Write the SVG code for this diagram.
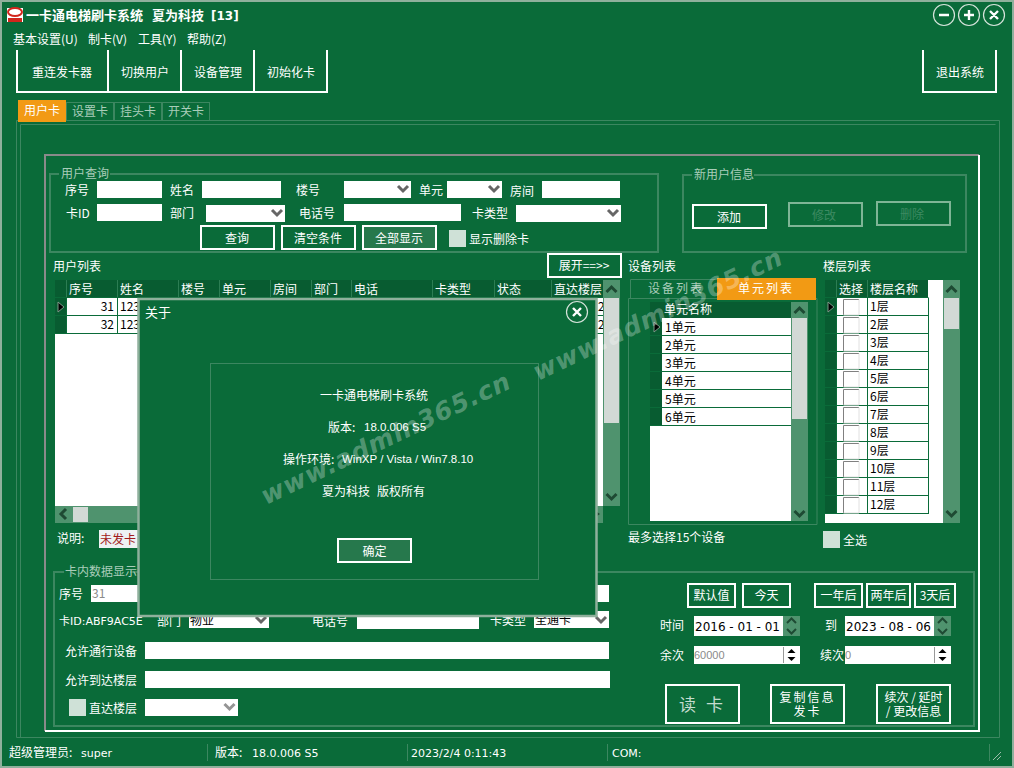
<svg xmlns="http://www.w3.org/2000/svg" xmlns:xlink="http://www.w3.org/1999/xlink" width="1014" height="768" viewBox="0 0 1014 768">
<style>
text{font-family:"Noto Sans CJK SC","Liberation Sans",sans-serif;font-size:12px;fill:#fff}
.lat{font-family:"DejaVu Sans","Noto Sans CJK SC",sans-serif;font-size:11px}
.k{fill:#000}.m{text-anchor:middle}.g{fill:#a9cdb9}.gy{fill:#8a8a8a}
.gb{fill:none;stroke:#3c8760;stroke-width:2}
.ln{fill:none;stroke:#3c8760;stroke-width:1}
.btn{fill:#0a6b39;stroke:#fff;stroke-width:2}
.on{fill:#26784c}
.dis{fill:#0a6b39;stroke:#7fb596;stroke-width:2}
.w{fill:#fff}.cb{fill:#cfe1d7}.hd{fill:#085c31}.sb{fill:#4f936e}.th{fill:#d2d9d5}.sep{fill:#2c7d53}
.chev{fill:none;stroke:#1e4a33;stroke-width:3}
.cmb{fill:none;stroke:#666;stroke-width:3}
.wm{font-family:"DejaVu Sans",sans-serif;font-size:25px;font-weight:bold;font-style:italic;fill:#fff;fill-opacity:.3;letter-spacing:1px}
</style>
<defs>
<path id="up" class="chev" d="M-5 3L0-2L5 3"/>
<path id="dn" class="chev" d="M-5-3L0 2L5-3"/>
<path id="cv" class="cmb" d="M-5-3L0 2L5-3"/>
<path id="ind" d="M-3-5L3 0L-3 5Z" fill="#000" stroke="#7a9a88" stroke-width="1"/>
<g id="chk"><rect x="0" y="0" width="16" height="16" fill="#fff"/><path d="M.5 16V.5H16" fill="none" stroke="#808080"/><path d="M16 .5V16H.5" fill="none" stroke="#e0e0e0"/></g>
<path id="spn" d="M-4-2L0-6L4-2ZM-4 2L0 6L4 2Z" fill="#000"/>
</defs>

<rect id="window" x="1" y="1" width="1012" height="766" fill="#0a6b39" stroke="#8fb09c" stroke-width="2"/>

<g id="titlebar">
<rect x="7" y="8" width="16" height="14" fill="#fff"/>
<ellipse cx="15" cy="12" rx="7" ry="4" fill="none" stroke="#d2261c" stroke-width="2"/>
<rect x="8" y="18" width="14" height="4" fill="#d2261c"/>
<text x="26" y="20" font-size="13" style="font-size:13px;font-weight:bold">一卡通电梯刷卡系统</text>
<text x="152" y="20" style="font-size:13px;font-weight:bold">夏为科技</text>
<text x="211" y="20" style="font-size:12px;font-weight:bold;font-family:'DejaVu Sans',sans-serif">[13]</text>
<g fill="none" stroke="#d5e3da" stroke-width="1.2"><circle cx="944" cy="15" r="10.5"/><circle cx="969" cy="15" r="10.5"/><circle cx="994" cy="15" r="10.5"/></g>
<path d="M939 15H949M964 15H974M969 10V20M990 11L998 19M998 11L990 19" fill="none" stroke="#fff" stroke-width="2.4"/>
</g>

<g id="menu">
<text x="13" y="44">基本设置(U)</text><text x="88" y="44">制卡(V)</text><text x="138" y="44">工具(Y)</text><text x="187" y="44">帮助(Z)</text>
</g>

<g id="toolbar">
<path d="M17 50V92H327V50M108 50V92M181 50V92M254 50V92" fill="none" stroke="#fff" stroke-width="2"/>
<path d="M923 50V92H996V50" fill="none" stroke="#fff" stroke-width="2"/>
<text x="32" y="77">重连发卡器</text><text x="121" y="77">切换用户</text><text x="194" y="77">设备管理</text><text x="267" y="77">初始化卡</text><text x="936" y="77">退出系统</text>
</g>

<g id="tabs">
<path d="M16.5 120.5H999.500V737.500H16.500Z" class="ln"/>
<path d="M20.500 124.500H995.500M20.500 124.500V737" class="ln"/>
<rect x="66.500" y="102.500" width="47" height="18" class="ln"/><rect x="114.500" y="102.500" width="47" height="18" class="ln"/><rect x="162.500" y="102.500" width="47" height="18" class="ln"/>
<rect x="18" y="100" width="48" height="22" fill="#f29a14"/>
<text x="24" y="115">用户卡</text><text x="72" y="116" class="g">设置卡</text><text x="120" y="116" class="g">挂头卡</text><text x="168" y="116" class="g">开关卡</text>
</g>

<g id="panel">
<path d="M45 731V155H979" fill="none" stroke="#8a8a8a" stroke-width="2"/>
<path d="M979 155V731H45" fill="none" stroke="#fff" stroke-width="2"/>
</g>

<g id="query">
<path d="M59 174H50V252H658V174H110" class="gb"/>
<text x="61" y="178" class="g">用户查询</text>
<text x="65" y="195">序号</text><rect x="97" y="181" width="65" height="17" class="w"/>
<text x="170" y="195">姓名</text><rect x="202" y="181" width="79" height="17" class="w"/>
<text x="296" y="195">楼号</text><rect x="344" y="181" width="67" height="17" class="w"/><use href="#cv" x="403" y="189"/>
<text x="419" y="195">单元</text><rect x="447" y="181" width="55" height="17" class="w"/><use href="#cv" x="494" y="189"/>
<text x="510" y="196">房间</text><rect x="542" y="181" width="78" height="17" class="w"/>
<text x="66" y="218">卡ID</text><rect x="97" y="204" width="65" height="17" class="w"/>
<text x="170" y="218">部门</text><rect x="206" y="205" width="79" height="17" class="w"/><use href="#cv" x="277" y="213"/>
<text x="299" y="218">电话号</text><rect x="344" y="204" width="117" height="17" class="w"/>
<text x="472" y="218">卡类型</text><rect x="516" y="205" width="105" height="17" class="w"/><use href="#cv" x="613" y="213"/>
<rect x="201" y="226" width="73" height="23" class="btn"/><text x="237" y="243" class="m">查询</text>
<rect x="282" y="226" width="73" height="23" class="btn"/><text x="318" y="243" class="m">清空条件</text>
<rect x="363" y="226" width="73" height="23" class="btn on"/><text x="399" y="243" class="m">全部显示</text>
<rect x="449" y="230" width="17" height="17" class="cb"/><text x="469" y="244">显示删除卡</text>
</g>

<g id="newuser">
<path d="M692 175H683V252H966V175H754" class="gb"/>
<text x="694" y="179" class="g">新用户信息</text>
<rect x="693" y="205" width="73" height="23" class="btn"/><text x="729" y="222" class="m">添加</text>
<rect x="789" y="203" width="73" height="23" class="dis"/><text x="824" y="220" class="m" style="fill:#3d8a62">修改</text>
<rect x="877" y="202" width="73" height="23" class="dis"/><text x="912" y="219" class="m" style="fill:#3d8a62">删除</text>
</g>

<g id="userlist">
<text x="53" y="271">用户列表</text>
<rect x="548" y="254" width="73" height="23" class="btn"/><text x="584" y="270" class="m">展开==&gt;&gt;</text>
<rect x="55" y="280" width="548" height="226" class="w"/>
<rect x="55" y="280" width="548" height="17" class="hd"/>
<path d="M66.500 280V297M117.500 280V297M178.500 280V297M219.500 280V297M270.500 280V297M311.500 280V297M351.500 280V297M432.500 280V297M494.500 280V297M551.500 280V297" stroke="#2c7d53"/>
<g><text x="69" y="294">序号</text><text x="120" y="294">姓名</text><text x="181" y="294">楼号</text><text x="222" y="294">单元</text><text x="273" y="294">房间</text><text x="314" y="294">部门</text><text x="354" y="294">电话</text><text x="435" y="294">卡类型</text><text x="497" y="294">状态</text><text x="554" y="294">直达楼层</text></g>
<rect x="55" y="298" width="11" height="17" class="hd"/><rect x="55" y="316" width="11" height="17" class="hd"/>
<path d="M55 297.500H603M55 315.500H603M55 333.500H603M66.500 298V333M117.500 298V333M178.500 298V333M219.500 298V333M270.500 298V333M311.500 298V333M351.500 298V333M432.500 298V333M494.500 298V333M551.500 298V333" stroke="#0a6b39"/>
<use href="#ind" x="61" y="307"/>
<text x="114" y="311" class="k" style="text-anchor:end">31</text><text x="114" y="329" class="k" style="text-anchor:end">32</text>
<text x="120" y="311" class="k">123</text><text x="120" y="329" class="k">123</text>
<text x="598" y="311" class="k">2</text><text x="598" y="329" class="k">2</text>
<rect x="603" y="280" width="17" height="226" class="sb"/><rect x="604" y="298" width="15" height="125" class="th"/>
<use href="#up" x="611.500" y="289"/><use href="#dn" x="611.500" y="497"/>
<rect x="55" y="506" width="548" height="17" class="sb"/><rect x="73" y="507" width="15" height="15" class="th"/>
<path d="M66 509L61 514L66 519" class="chev"/><path d="M597 512L600 514L597 516Z" fill="#1e4a33"/>
<text x="57" y="543">说明:</text>
<rect x="99" y="530" width="39" height="18" fill="#eef2f3"/><text x="100" y="544" style="fill:#a11a1a">未发卡</text>
</g>

<g id="devices">
<text x="628" y="271">设备列表</text>
<path d="M630.500 299V279.500H717" class="ln"/>
<path d="M628.500 298.500H817V524.500H628.500Z" class="ln"/>
<rect x="717" y="278" width="99" height="22" fill="#f29a14"/>
<text x="648" y="293" class="g" style="letter-spacing:2px">设备列表</text>
<text x="738" y="293" style="letter-spacing:2px">单元列表</text>
<rect x="650" y="302" width="141" height="219" class="w"/>
<rect x="650" y="302" width="141" height="16" class="hd"/>
<text x="664" y="314">单元名称</text>
<g class="hd"><rect x="650" y="318" width="12" height="17"/><rect x="650" y="336" width="12" height="17"/><rect x="650" y="354" width="12" height="17"/><rect x="650" y="372" width="12" height="17"/><rect x="650" y="390" width="12" height="17"/><rect x="650" y="408" width="12" height="17"/></g>
<path d="M650 335.500H791M650 353.500H791M650 371.500H791M650 389.500H791M650 407.500H791M650 425.500H791" stroke="#0a6b39"/>
<use href="#ind" x="657" y="327"/>
<g class="k"><text x="665" y="332" class="k">1单元</text><text x="665" y="350" class="k">2单元</text><text x="665" y="368" class="k">3单元</text><text x="665" y="386" class="k">4单元</text><text x="665" y="404" class="k">5单元</text><text x="665" y="422" class="k">6单元</text></g>
<rect x="791" y="302" width="17" height="219" class="sb"/><rect x="792" y="318" width="15" height="101" class="th"/>
<use href="#up" x="799.500" y="310"/><use href="#dn" x="799.500" y="514"/>
<text x="628" y="542">最多选择15个设备</text>
</g>

<g id="floors">
<text x="823" y="271">楼层列表</text>
<rect x="825" y="280" width="118" height="243" class="w"/>
<rect x="825" y="280" width="103" height="17" class="hd"/>
<path d="M836.500 280V297M867.500 280V297" stroke="#2c7d53"/>
<text x="839" y="294">选择</text><text x="870" y="294">楼层名称</text>
<g id="rows">
<g class="hd"><rect x="825" y="298" width="11" height="215"/></g>
<path d="M825 297.500H928.500M825 315.500H928.500M825 333.500H928.500M825 351.500H928.500M825 369.500H928.500M825 387.500H928.500M825 405.500H928.500M825 423.500H928.500M825 441.500H928.500M825 459.500H928.500M825 477.500H928.500M825 495.500H928.500M825 513.500H928.500M836.500 298V513M867.500 298V513M928.500 298V514" stroke="#0a6b39"/>
</g>
<use href="#ind" x="831" y="307"/>
<use href="#chk" x="843" y="299"/><use href="#chk" x="843" y="317"/><use href="#chk" x="843" y="335"/><use href="#chk" x="843" y="353"/><use href="#chk" x="843" y="371"/><use href="#chk" x="843" y="389"/><use href="#chk" x="843" y="407"/><use href="#chk" x="843" y="425"/><use href="#chk" x="843" y="443"/><use href="#chk" x="843" y="461"/><use href="#chk" x="843" y="479"/><use href="#chk" x="843" y="497"/>
<text x="870" y="311" class="k">1层</text><text x="870" y="329" class="k">2层</text><text x="870" y="347" class="k">3层</text><text x="870" y="365" class="k">4层</text><text x="870" y="383" class="k">5层</text><text x="870" y="401" class="k">6层</text><text x="870" y="419" class="k">7层</text><text x="870" y="437" class="k">8层</text><text x="870" y="455" class="k">9层</text><text x="870" y="473" class="k">10层</text><text x="870" y="491" class="k">11层</text><text x="870" y="509" class="k">12层</text>
<rect x="943" y="280" width="17" height="243" class="sb"/><rect x="944" y="298" width="15" height="31" class="th"/>
<use href="#up" x="951.500" y="289"/><use href="#dn" x="951.500" y="514"/>
<rect x="823" y="531" width="17" height="17" class="cb"/><text x="843" y="545">全选</text>
</g>

<g id="carddata">
<path d="M64 572H54V726H974V572H130" class="gb"/>
<text x="65" y="576" class="g">卡内数据显示</text>
<text x="59" y="599">序号</text><rect x="91" y="585" width="518" height="17" class="w"/><text x="92" y="598" class="gy">31</text>
<text x="59" y="625" class="lat" style="font-size:11px">卡ID:ABF9AC5E</text>
<text x="157" y="626">部门</text><rect x="189" y="611" width="80" height="17" class="w"/><text x="190" y="625" class="k">物业</text><use href="#cv" x="261" y="620"/>
<text x="312" y="626">电话号</text><rect x="357" y="611" width="122" height="18" class="w"/>
<text x="490" y="625">卡类型</text><rect x="534" y="611" width="75" height="17" class="w"/><text x="535" y="624" class="k">全通卡</text><use href="#cv" x="601" y="620"/>
<text x="65" y="656">允许通行设备</text><rect x="145" y="642" width="464" height="17" class="w"/>
<text x="65" y="685">允许到达楼层</text><rect x="145" y="671" width="465" height="17" class="w"/>
<rect x="69" y="699" width="17" height="17" class="cb"/><text x="89" y="713">直达楼层</text>
<rect x="145" y="699" width="93" height="17" class="w"/><use href="#cv" x="229.500" y="707" style="opacity:.7"/>
<rect x="688" y="584" width="47" height="23" class="btn"/><text x="711.500" y="600" class="m">默认值</text>
<rect x="743" y="584" width="47" height="23" class="btn"/><text x="766.500" y="600" class="m">今天</text>
<rect x="815" y="584" width="47" height="23" class="btn"/><text x="838.500" y="600" class="m">一年后</text>
<rect x="867" y="584" width="43" height="23" class="btn"/><text x="888.500" y="600" class="m">两年后</text>
<rect x="915" y="584" width="40" height="23" class="btn"/><text x="935" y="600" class="m">3天后</text>
<text x="660" y="630">时间</text><rect x="694" y="616" width="89" height="20" class="w"/><text x="695" y="631" class="k" style="font-family:'DejaVu Sans';font-size:12px;font-weight:500">2016 - 01 - 01</text>
<rect x="783" y="616" width="17" height="20" class="sb"/><path d="M787 623L791.500 618.500L796 623M787 629L791.500 633.500L796 629" class="chev" style="stroke-width:2"/>
<text x="825" y="630">到</text><rect x="845" y="616" width="89" height="20" class="w"/><text x="846" y="631" class="k" style="font-family:'DejaVu Sans';font-size:12px;font-weight:500">2023 - 08 - 06</text>
<rect x="934" y="616" width="17" height="20" class="sb"/><path d="M938 623L942.500 618.500L947 623M938 629L942.500 633.500L947 629" class="chev" style="stroke-width:2"/>
<text x="660" y="660">余次</text><rect x="694" y="646" width="106" height="18" class="w"/><text x="694" y="659" class="gy" style="font-family:'Liberation Sans';font-size:11px">60000</text><path d="M783.500 647V663" stroke="#999"/><use href="#spn" x="791.500" y="655"/>
<text x="820" y="660">续次</text><rect x="845" y="646" width="106" height="18" class="w"/><text x="845" y="659" class="gy" style="font-family:'Liberation Sans';font-size:11px">0</text><path d="M934.500 647V663" stroke="#999"/><use href="#spn" x="942.500" y="655"/>
<rect x="666" y="685" width="73" height="38" class="btn"/><text x="702.500" y="711" class="m" style="font-size:17px;fill:#c4dccf;letter-spacing:3px">读 卡</text>
<rect x="771" y="685" width="73" height="38" class="btn"/><text x="807.500" y="702" class="m" style="letter-spacing:2px">复制信息</text><text x="807.500" y="716" class="m" style="letter-spacing:2px">发卡</text>
<rect x="877" y="685" width="73" height="38" class="btn"/><text x="913.500" y="702" class="m">续次 / 延时</text><text x="913.500" y="716" class="m">/ 更改信息</text>
</g>

<g id="statusbar">
<path d="M207.500 744V761M407.500 744V761M607.500 744V761M989.500 744V761" stroke="#3c8760"/>
<path d="M993 760L1001 752M997 760L1001 756" stroke="#9dbbaa"/>
<text x="9" y="757">超级管理员:</text><text x="81" y="757" class="lat">super</text>
<text x="215" y="757">版本:</text><text x="252" y="757" class="lat">18.0.006 S5</text>
<text x="411" y="757" class="lat">2023/2/4 0:11:43</text>
<text x="612" y="757" class="lat">COM:</text>
</g>

<g id="about">
<rect x="138.500" y="299" width="458" height="317" fill="#0a6b39" stroke="#8fb09c" stroke-width="2.500"/>
<text x="145" y="317" style="font-size:13px">关于</text>
<circle cx="577" cy="312" r="10.500" fill="none" stroke="#d5e3da" stroke-width="1.200"/>
<path d="M573 308L581 316M581 308L573 316" stroke="#fff" stroke-width="2.400"/>
<rect x="210.500" y="363.500" width="328" height="216" class="ln"/>
<text x="374" y="400" class="m">一卡通电梯刷卡系统</text>
<text x="328" y="432">版本:</text><text x="364" y="431" style="font-family:'Liberation Sans';font-size:11.500px">18.0.006 S5</text>
<text x="283" y="464">操作环境:</text><text x="342" y="463" style="font-family:'Liberation Sans';font-size:11.500px">WinXP / Vista / Win7.8.10</text>
<text x="322" y="496">夏为科技</text><text x="377" y="496">版权所有</text>
<rect x="338" y="539" width="73" height="23" class="btn on"/><text x="374.500" y="556" class="m">确定</text>
</g>

<g id="watermarks">
<text class="wm" transform="translate(266 505) rotate(-25.500)">www.admin365.cn</text>
<text class="wm" transform="translate(538 381) rotate(-25.500)">www.admin365.cn</text>
</g>
</svg>
